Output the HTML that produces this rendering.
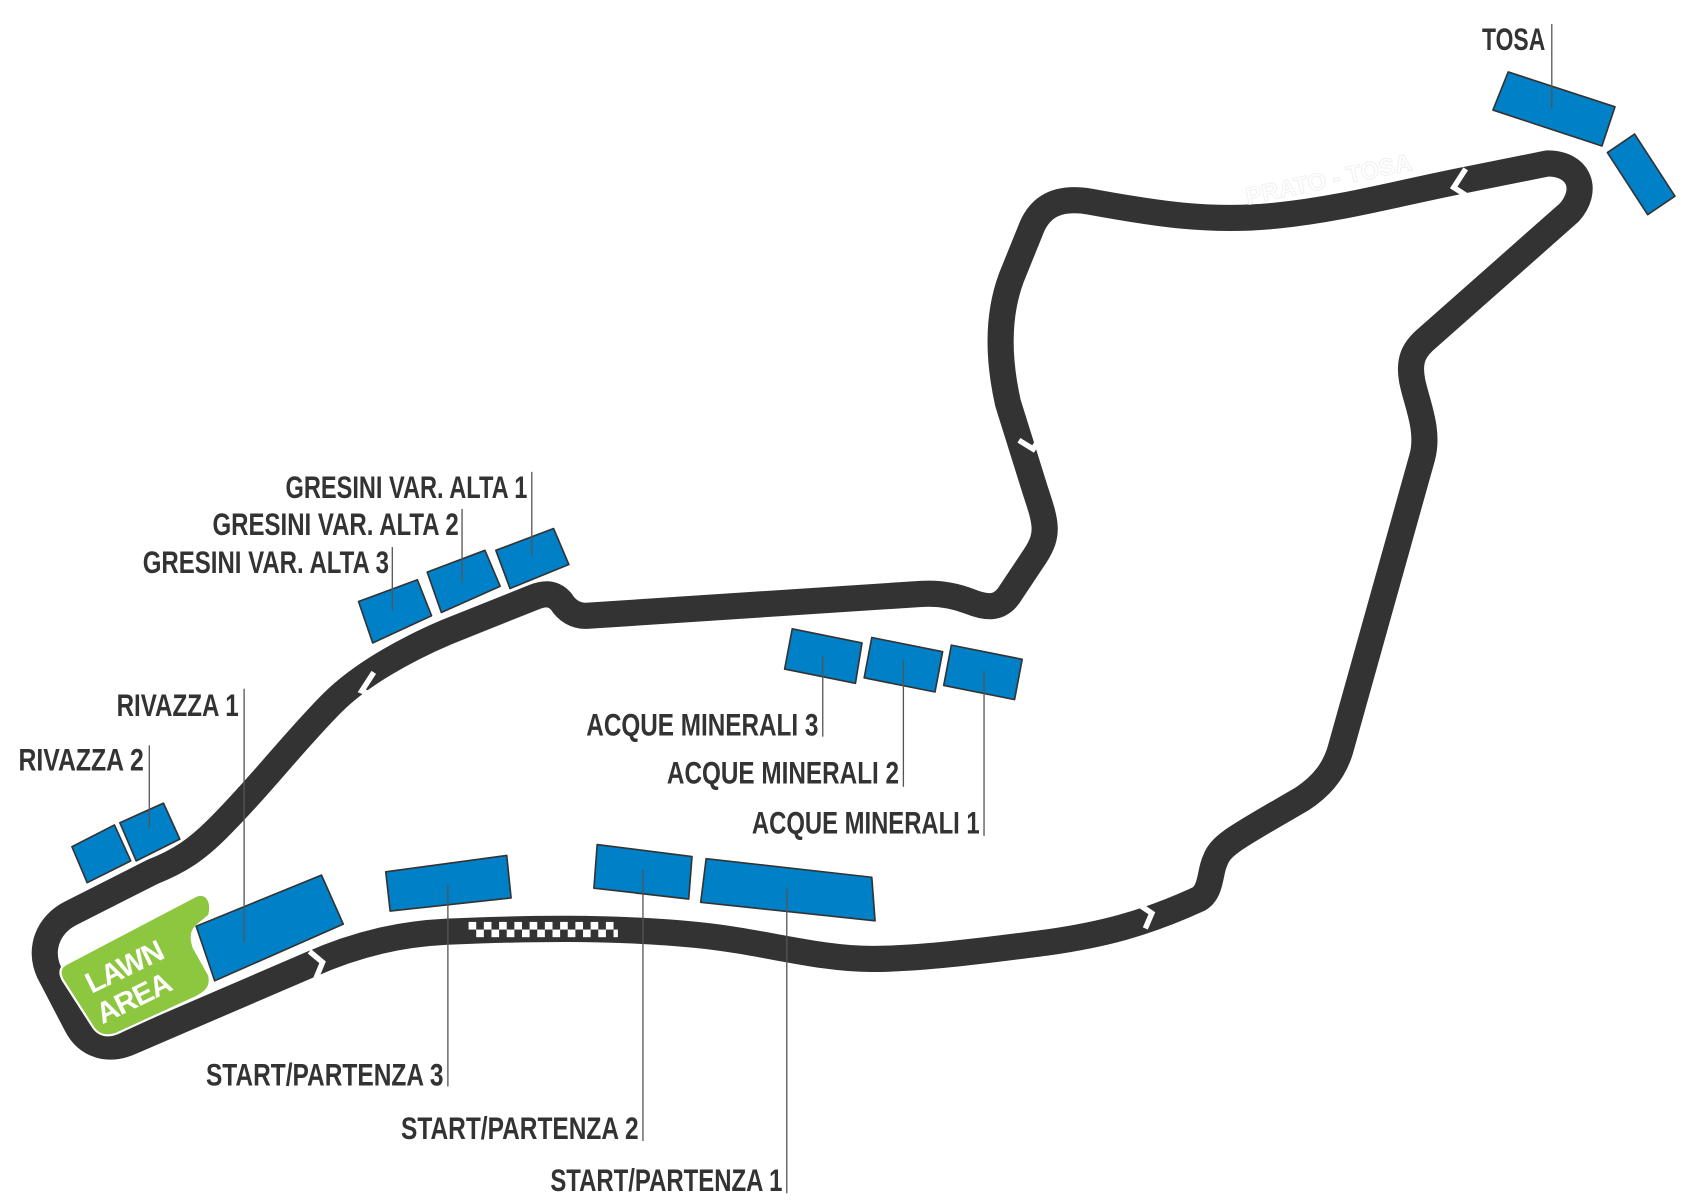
<!DOCTYPE html>
<html><head><meta charset="utf-8">
<style>
html,body{margin:0;padding:0;background:#fff;}
svg{display:block;}
text{font-family:"Liberation Sans Narrow","Liberation Sans",sans-serif;font-weight:bold;fill:#333;font-size:29px;}
</style></head>
<body>
<svg width="1700" height="1202" viewBox="0 0 1560 1103" xmlns="http://www.w3.org/2000/svg">
<rect width="1560" height="1103" fill="#fff"/>
<path d="M410,855 C480,852 560,850 640,858 C700,864 750,880 800,880 C850,880 920,870 960,865 C1010,858 1050,848 1100,825 C1112,818 1110,800 1115,790 C1120,775 1135,768 1195,733 C1215,720 1225,705 1230,688 L1305,420 C1312,395 1300,370 1296,350 C1292,330 1298,320 1310,310 L1440,195 C1458,175 1450,150 1420,150 L1340,166 C1280,178 1230,192 1170,198 C1110,204 1060,196 1000,185 C970,180 955,190 947,208 L928,255 C915,290 916,330 925,370 L950,450 C960,480 963,490 950,510 L928,543 C918,560 905,558 890,552 C875,546 860,544 845,545 L540,565 C528,566 520,560 515,552 C508,544 500,544 490,548 L410,580 C370,597 330,620 305,645 C270,680 240,720 200,760 C180,780 165,790 140,800 L65,838 C45,848 35,870 45,892 L70,940 C80,960 100,965 120,956 L285,885 C330,865 370,857 410,855 Z" fill="none" stroke="#333" stroke-width="24" stroke-linejoin="round"/>
<g fill="#fff">
<rect x="430" y="846" width="7" height="7"/><rect x="444" y="846" width="7" height="7"/><rect x="458" y="846" width="7" height="7"/><rect x="472" y="846" width="7" height="7"/><rect x="486" y="846" width="7" height="7"/><rect x="500" y="846" width="7" height="7"/><rect x="514" y="846" width="7" height="7"/><rect x="528" y="846" width="7" height="7"/><rect x="542" y="846" width="7" height="7"/><rect x="556" y="846" width="7" height="7"/>
<rect x="437" y="853" width="7" height="7"/><rect x="451" y="853" width="7" height="7"/><rect x="465" y="853" width="7" height="7"/><rect x="479" y="853" width="7" height="7"/><rect x="493" y="853" width="7" height="7"/><rect x="507" y="853" width="7" height="7"/><rect x="521" y="853" width="7" height="7"/><rect x="535" y="853" width="7" height="7"/><rect x="549" y="853" width="7" height="7"/><rect x="563" y="853" width="4" height="7"/>
</g>
<g fill="none" stroke="#fff" stroke-width="5">
<polyline points="284,873 296,883 289,900"/>
<polyline points="1042,828 1057,838 1051,852"/>
<polyline points="1345,155 1334,172 1348,181"/>
<polyline points="935,404 948,412 957,398"/>
<polyline points="343,617 332,634 348,640"/>
</g>
<text x="1145" y="188" transform="rotate(-12 1145 188)" style="fill:#fff;stroke:#eee;stroke-width:0.8;font-size:22px">PRATO - TOSA</text>
<path d="M60,885 L180,822 C190,818 195,828 192,840 L180,850 C175,855 175,862 178,870 L192,895 C194,905 190,910 180,915 L108,948 C98,952 90,950 85,942 L58,900 C54,893 55,888 60,885 Z" fill="#8dc63f" stroke="#fff" stroke-width="2"/>
<text x="0" y="0" transform="translate(84,912) rotate(-26)" style="fill:#fff;font-family:'Liberation Sans',sans-serif;font-size:27px;font-weight:900;letter-spacing:-1px">LAWN</text>
<text x="0" y="0" transform="translate(94,940) rotate(-26)" style="fill:#fff;font-family:'Liberation Sans',sans-serif;font-size:27px;font-weight:900;letter-spacing:-1px">AREA</text>
<g fill="#0080c6" stroke="#333" stroke-width="1.5" stroke-linejoin="round">
<polygon points="1384,66 1482,98 1470,134 1370,101"/>
<polygon points="1500,123 1537,180 1512,197 1475,140"/>
<polygon points="455,505 508,485 522,518 468,540"/>
<polygon points="392,525 445,505 459,538 405,562"/>
<polygon points="329,552 383,532 396,565 342,590"/>
<polygon points="727,577 791,590 785,627 720,614"/>
<polygon points="800,585 865,598 858,635 793,622"/>
<polygon points="873,592 938,605 931,642 866,629"/>
<polygon points="66,777 105,757 120,790 80,810"/>
<polygon points="110,755 150,737 165,770 125,790"/>
<polygon points="180,850 295,803 315,848 197,900"/>
<polygon points="354,800 465,785 469,824 358,836"/>
<polygon points="548,775 635,786 632,825 545,815"/>
<polygon points="648,788 800,805 803,845 643,828"/>
</g>
<g stroke="#555" stroke-width="1.2">
<line x1="1424" y1="22" x2="1424" y2="100"/>
<line x1="488" y1="433" x2="488" y2="510"/>
<line x1="424" y1="467" x2="424" y2="535"/>
<line x1="360" y1="502" x2="360" y2="560"/>
<line x1="224" y1="632" x2="224" y2="865"/>
<line x1="137" y1="684" x2="137" y2="760"/>
<line x1="755" y1="602" x2="755" y2="676"/>
<line x1="829" y1="606" x2="829" y2="722"/>
<line x1="903" y1="616" x2="903" y2="767"/>
<line x1="411" y1="812" x2="411" y2="997"/>
<line x1="590" y1="798" x2="590" y2="1047"/>
<line x1="722" y1="815" x2="722" y2="1095"/>
</g>
<text x="1360" y="46" textLength="58" lengthAdjust="spacingAndGlyphs">TOSA</text>
<text x="262" y="457" textLength="222" lengthAdjust="spacingAndGlyphs">GRESINI VAR. ALTA 1</text>
<text x="195" y="491" textLength="226" lengthAdjust="spacingAndGlyphs">GRESINI VAR. ALTA 2</text>
<text x="131" y="526" textLength="226" lengthAdjust="spacingAndGlyphs">GRESINI VAR. ALTA 3</text>
<text x="107" y="657" textLength="112" lengthAdjust="spacingAndGlyphs">RIVAZZA 1</text>
<text x="17" y="707" textLength="115" lengthAdjust="spacingAndGlyphs">RIVAZZA 2</text>
<text x="538" y="675" textLength="213" lengthAdjust="spacingAndGlyphs">ACQUE MINERALI 3</text>
<text x="612" y="719" textLength="213" lengthAdjust="spacingAndGlyphs">ACQUE MINERALI 2</text>
<text x="690" y="765" textLength="209" lengthAdjust="spacingAndGlyphs">ACQUE MINERALI 1</text>
<text x="189" y="996" textLength="218" lengthAdjust="spacingAndGlyphs">START/PARTENZA 3</text>
<text x="368" y="1045" textLength="218" lengthAdjust="spacingAndGlyphs">START/PARTENZA 2</text>
<text x="505" y="1093" textLength="213" lengthAdjust="spacingAndGlyphs">START/PARTENZA 1</text>
</svg>
</body></html>
